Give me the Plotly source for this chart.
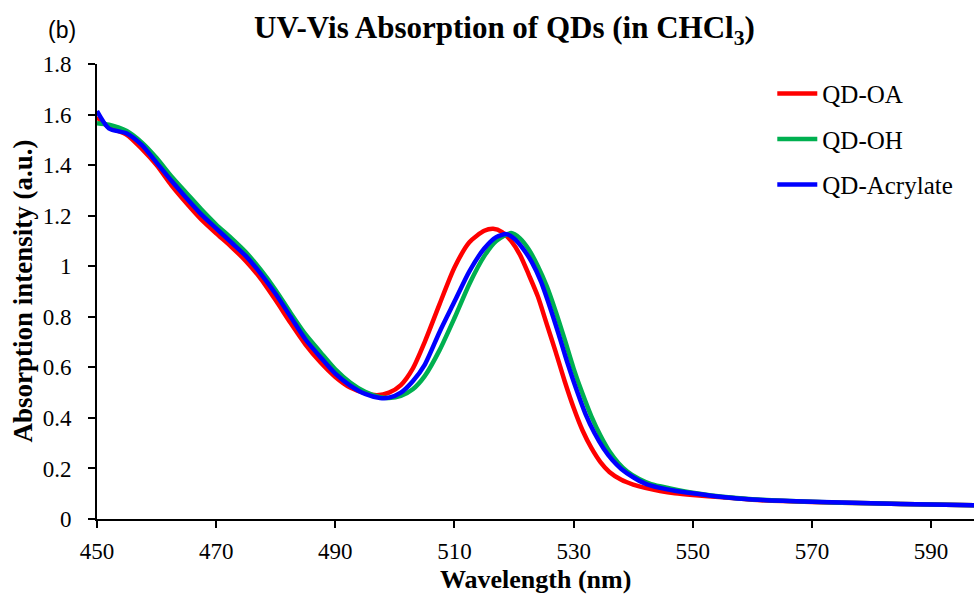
import plotly.graph_objects as go

# ---- data ----
wl_oa = [450, 452, 455, 457.5, 460, 462.5, 465, 467.5, 470, 472.5, 475, 477.5, 480, 482.5,
         485, 487.5, 490, 492.5, 495, 497, 499, 501, 503, 505, 507.5, 510, 512.5, 515, 516.5,
         518, 519.5, 521, 522.5, 524, 525.5, 527, 528.5, 530, 531.5, 533, 534.5, 536, 538,
         540, 542, 544.5, 547, 550, 555, 560, 570, 580, 590, 598]
abs_oa = [1.59, 1.55, 1.52, 1.465, 1.40, 1.32, 1.25, 1.185, 1.13, 1.078, 1.02, 0.95, 0.865, 0.775,
          0.69, 0.62, 0.562, 0.52, 0.498, 0.49, 0.50, 0.53, 0.595, 0.70, 0.85, 0.995, 1.095, 1.14, 1.148,
          1.135, 1.10, 1.045, 0.965, 0.88, 0.77, 0.66, 0.545, 0.44, 0.35, 0.28, 0.225, 0.186, 0.155,
          0.136, 0.123, 0.111, 0.102, 0.095, 0.086, 0.076, 0.067, 0.062, 0.057, 0.054]

wl_oh = [450, 452, 455, 457.5, 460, 462.5, 465, 467.5, 470, 472.5, 475, 477.5, 480, 482.5,
         485, 487.5, 490, 492.5, 495, 497.5, 499, 501, 503, 505, 507.5, 510, 512.5, 515, 517,
         519.5, 521, 522.5, 524, 525.5, 527, 528.5, 530, 531.5, 533, 534.5, 536, 537.5, 539,
         541, 543, 546, 550, 555, 560, 570, 580, 590, 598]
abs_oh = [1.566, 1.56, 1.535, 1.49, 1.428, 1.355, 1.29, 1.225, 1.165, 1.112, 1.055, 0.985, 0.905, 0.815,
          0.73, 0.66, 0.592, 0.54, 0.503, 0.482, 0.479, 0.487, 0.513, 0.565, 0.668, 0.795, 0.93, 1.04, 1.10,
          1.131, 1.11, 1.065, 1.00, 0.92, 0.82, 0.71, 0.595, 0.495, 0.405, 0.33, 0.268, 0.222, 0.188,
          0.158, 0.138, 0.122, 0.104, 0.088, 0.078, 0.068, 0.062, 0.057, 0.054]

wl_ac = [450, 452, 455, 457.5, 460, 462.5, 465, 467.5, 470, 472.5, 475, 477.5, 480, 482.5,
         485, 487.5, 490, 492.5, 495, 497.5, 499, 501, 503, 505, 507.5, 510, 512.5, 515, 517,
         518.7, 520, 521.5, 523, 524.5, 526, 527.5, 529, 530.5, 532, 533.5, 535, 536.5, 538,
         540, 542, 544.5, 547, 550, 555, 560, 570, 580, 590, 598]
abs_ac = [1.614, 1.545, 1.525, 1.48, 1.41, 1.338, 1.27, 1.205, 1.15, 1.095, 1.04, 0.97, 0.89, 0.80,
          0.71, 0.64, 0.575, 0.528, 0.495, 0.479, 0.48, 0.50, 0.545, 0.61, 0.74, 0.86, 0.98, 1.07, 1.115,
          1.127, 1.11, 1.07, 1.015, 0.94, 0.84, 0.73, 0.615, 0.51, 0.415, 0.34, 0.28, 0.233, 0.198,
          0.165, 0.14, 0.123, 0.112, 0.102, 0.087, 0.077, 0.068, 0.062, 0.057, 0.054]

series_names = ["QD-OA", "QD-OH", "QD-Acrylate"]
series_colors = ["#FF0000", "#00B050", "#0000FF"]
x_ticks = [450, 470, 490, 510, 530, 550, 570, 590]
y_ticks = [0, 0.2, 0.4, 0.6, 0.8, 1, 1.2, 1.4, 1.6, 1.8]

SERIF = "Liberation Serif, Times New Roman, serif"

fig = go.Figure()
for i, (wl, ab) in enumerate([(wl_oa, abs_oa), (wl_oh, abs_oh), (wl_ac, abs_ac)]):
    fig.add_trace(go.Scatter(
        x=wl, y=ab, mode="lines", name=series_names[i],
        line=dict(color=series_colors[i], width=4.5, shape="spline", smoothing=0.7),
        legendgroup=series_names[i],
    ))

fig.update_layout(
    width=974, height=605,
    margin=dict(l=97, r=0, t=64, b=86),
    plot_bgcolor="white", paper_bgcolor="white",
    font=dict(family=SERIF, size=22, color="black"),
    showlegend=True,
    legend=dict(x=0.770, y=0.985, xanchor="left", yanchor="top",
                font=dict(family=SERIF, size=25, color="black"),
                bgcolor="rgba(0,0,0,0)", tracegroupgap=10, itemwidth=40),
    xaxis=dict(range=[450, 597.2], tickvals=x_ticks, showgrid=False, zeroline=False,
               showline=True, linecolor="black", linewidth=2, automargin=False,
               ticks="outside", ticklen=7, tickwidth=2, tickcolor="black",
               ticklabelstandoff=3,
               tickfont=dict(family=SERIF, size=23, color="black")),
    yaxis=dict(range=[0, 1.8], tickvals=y_ticks, showgrid=False, zeroline=False,
               showline=True, linecolor="black", linewidth=2, automargin=False,
               ticks="outside", ticklen=7, tickwidth=2, tickcolor="black",
               ticklabelstandoff=12,
               tickfont=dict(family=SERIF, size=23, color="black")),
    annotations=[
        dict(text="<b>UV-Vis Absorption of QDs (in CHCl<sub>3</sub>)</b>", xref="paper", yref="paper",
             x=0.4652, y=1.0747, xanchor="center", yanchor="middle", showarrow=False,
             font=dict(family=SERIF, size=31, color="black")),
        dict(text="(b)", xref="paper", yref="paper", x=-0.0399, y=1.0747,
             xanchor="center", yanchor="middle", showarrow=False,
             font=dict(family="Liberation Sans Narrow, Liberation Sans, Arial, sans-serif", size=23, color="black")),
        dict(text="<b>Absorption intensity (a.u.)</b>", xref="paper", yref="paper",
             x=-0.0855, y=0.50, xanchor="center", yanchor="middle", textangle=-90, showarrow=False,
             font=dict(family=SERIF, size=27, color="black")),
        dict(text="<b>Wavelength (nm)</b>", xref="paper", yref="paper",
             x=0.5, y=-0.134, xanchor="center", yanchor="middle", showarrow=False,
             font=dict(family=SERIF, size=26, color="black")),
    ],
)

fig.write_html("out.html", config={"displayModeBar": False},
               post_script="document.body.style.margin='0';document.body.style.overflow='hidden';")
